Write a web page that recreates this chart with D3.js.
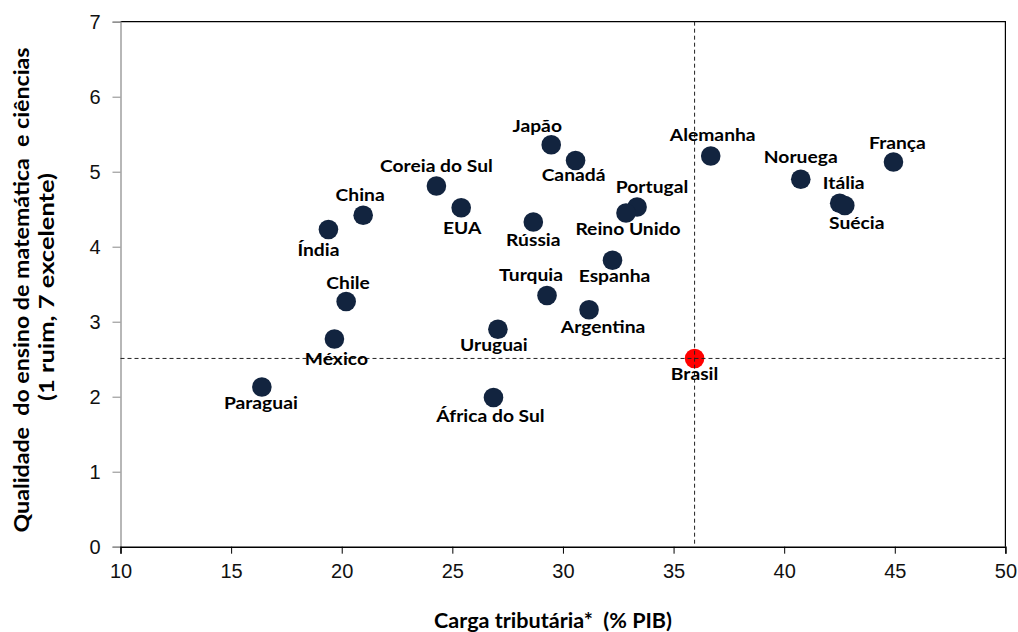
<!DOCTYPE html>
<html>
<head>
<meta charset="utf-8">
<script src="https://cdn.jsdelivr.net/npm/d3@7"></script>
<style>
  body { margin: 0; background: #fff; }
  svg { display: block; font-family: Lato, "Open Sans", sans-serif; }
  .title { white-space: pre; }
</style>
</head>
<body>
<div id="chart"></div>
<script>
// data
const countries = ["Paraguai", "México", "Chile", "Índia", "China", "Coreia do Sul", "EUA", "Japão", "Canadá", "Rússia",
	"Portugal", "Reino Unido", "Espanha", "Turquia", "Argentina", "Uruguai", "África do Sul", "Brasil",
	"Alemanha", "Noruega", "Itália", "Suécia", "França"];
const cargaTributaria = [16.39, 19.67, 20.2, 19.4, 20.97, 24.28, 25.4, 29.47, 30.57, 28.66,
	33.35, 32.85, 32.24, 29.28, 31.18, 27.06, 26.86, 35.95,
	36.68, 40.75, 42.51, 42.74, 44.94];
const qualidadeEnsino = [2.13, 2.77, 3.27, 4.23, 4.42, 4.81, 4.52, 5.36, 5.15, 4.33,
	4.53, 4.45, 3.82, 3.35, 3.16, 2.9, 1.99, 2.51,
	5.21, 4.9, 4.58, 4.55, 5.13];
const xTicks = [10, 15, 20, 25, 30, 35, 40, 45, 50];
const yTicks = [0, 1, 2, 3, 4, 5, 6, 7];
const highlight = "Brasil";

// where each label sits relative to its dot (px)
const labelOffset = {
	"Paraguai": [-1, 22], "México": [2, 26], "Chile": [2, -12], "Índia": [-10, 27], "China": [-3, -14],
	"Coreia do Sul": [0, -14], "EUA": [1, 26], "Japão": [-14, -13], "Canadá": [-2, 21], "Rússia": [0, 24],
	"Portugal": [15, -14], "Reino Unido": [2, 22], "Espanha": [2, 22], "Turquia": [-16, -14],
	"Argentina": [14, 23], "Uruguai": [-4, 22], "África do Sul": [-3, 25], "Brasil": [0, 22],
	"Alemanha": [2, -15], "Noruega": [0, -16], "Itália": [4, -14], "Suécia": [12, 24], "França": [4, -13]
};

const width = 1018, height = 632;
const margin = {top: 21.7, right: 12.6, bottom: 85.3, left: 120.5};

const svg = d3.select("#chart").append("svg")
	.attr("width", width).attr("height", height);

const x = d3.scaleLinear().domain([10, 50]).range([margin.left, width - margin.right]);
const y = d3.scaleLinear().domain([0, 7]).range([height - margin.bottom, margin.top]);

const data = countries.map((name, i) => ({name, x: cargaTributaria[i], y: qualidadeEnsino[i]}));

// frame: top and right border
svg.append("path")
	.attr("d", `M${x(10)},${y(7)}H${x(50)}V${y(0)}`)
	.attr("fill", "none").attr("stroke", "#000").attr("stroke-width", 1.2);

// y axis
const yAxis = svg.append("g")
	.attr("transform", `translate(${x(10)},0)`)
	.call(d3.axisLeft(y).tickValues(yTicks).tickSize(8).tickPadding(12).tickFormat(d3.format("d")));
yAxis.select(".domain").attr("stroke", "#888").attr("stroke-width", 1.2);
yAxis.selectAll(".tick line").attr("stroke", "#888");
yAxis.selectAll(".tick text").attr("font-size", 20).attr("fill", "#111");

// x axis
const xAxis = svg.append("g")
	.attr("transform", `translate(0,${y(0)})`)
	.call(d3.axisBottom(x).tickValues(xTicks).tickSize(7).tickPadding(10).tickFormat(d3.format("d")));
xAxis.select(".domain").attr("stroke", "#000").attr("stroke-width", 1.4);
xAxis.selectAll(".tick line").attr("stroke", "#000");
xAxis.selectAll(".tick text").attr("font-size", 20).attr("fill", "#111");

// dots
svg.append("g").selectAll("circle")
	.data(data)
	.join("circle")
	.attr("cx", d => x(d.x))
	.attr("cy", d => y(d.y))
	.attr("r", 9.8)
	.attr("fill", d => d.name === highlight ? "#ff0000" : "#12243f");

// reference lines through Brasil
const br = data.find(d => d.name === highlight);
svg.append("line")
	.attr("x1", x(10)).attr("x2", x(50))
	.attr("y1", y(br.y)).attr("y2", y(br.y))
	.attr("stroke", "#222").attr("stroke-dasharray", "4,3");
svg.append("line")
	.attr("x1", x(br.x)).attr("x2", x(br.x))
	.attr("y1", y(7)).attr("y2", y(0))
	.attr("stroke", "#222").attr("stroke-dasharray", "4,3");

// labels (stretched a bit sideways, the original font is wider than Lato at this height)
svg.append("g").selectAll("text")
	.data(data)
	.join("text")
	.attr("x", d => x(d.x) + labelOffset[d.name][0])
	.attr("y", d => y(d.y) + labelOffset[d.name][1])
	.attr("text-anchor", "middle")
	.attr("font-size", 17.5)
	.attr("font-weight", "bold")
	.attr("fill", "#000")
	.text(d => d.name)
	.each(function () {
		const len = this.getComputedTextLength();
		d3.select(this).attr("textLength", len * 1.1).attr("lengthAdjust", "spacingAndGlyphs");
	});

// axis titles
svg.append("text")
	.attr("class", "title")
	.attr("x", 553).attr("y", 628)
	.attr("text-anchor", "middle")
	.attr("font-size", 20).attr("font-weight", "bold").attr("fill", "#000")
	.attr("textLength", 238).attr("lengthAdjust", "spacingAndGlyphs")
	.text("Carga tributária*  (% PIB)");

svg.append("text")
	.attr("class", "title")
	.attr("transform", "translate(29,290) rotate(-90)")
	.attr("text-anchor", "middle")
	.attr("font-size", 20.5).attr("font-weight", "bold").attr("fill", "#000")
	.attr("textLength", 485).attr("lengthAdjust", "spacingAndGlyphs")
	.text("Qualidade  do ensino de matemática  e ciências");
svg.append("text")
	.attr("class", "title")
	.attr("transform", "translate(54,287) rotate(-90)")
	.attr("text-anchor", "middle")
	.attr("font-size", 20.5).attr("font-weight", "bold").attr("fill", "#000")
	.attr("textLength", 228).attr("lengthAdjust", "spacingAndGlyphs")
	.text("(1 ruim, 7 excelente)");
</script>
</body>
</html>
